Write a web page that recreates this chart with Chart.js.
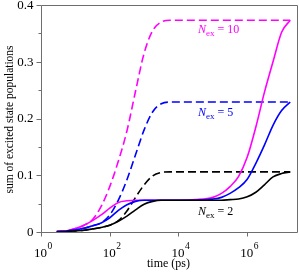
<!DOCTYPE html>
<html><head><meta charset="utf-8">
<script src="https://cdn.jsdelivr.net/npm/chart.js@4.4.1/dist/chart.umd.min.js"></script>
<style>html,body{margin:0;padding:0;background:#fff}#wrap{width:299px;height:272px}</style>
</head><body><div id="wrap"><canvas id="c" width="299" height="272"></canvas></div>
<script>
// time grid (ps)
const times = [2.88, 5.62, 10, 17.8, 31.6, 56.2, 100, 178, 316, 562, 1000, 1780, 3160, 5620, 1e4, 3.16e4, 1e5, 1.78e5, 3.16e5, 5.62e5, 1e6, 1.78e6, 3.16e6, 5.62e6, 1e7, 1.78e7];
// N_ex = 10
const magentaSolid  = [0.001,0.002,0.006,0.012,0.020,0.030,0.042,0.052,0.055,0.056,0.056,0.056,0.056,0.056,0.056,0.057,0.061,0.068,0.080,0.098,0.132,0.185,0.246,0.300,0.352,0.373];
const magentaDashed = [0.001,0.002,0.006,0.012,0.022,0.045,0.080,0.125,0.178,0.248,0.315,0.355,0.370,0.373,0.373,0.373,0.373,0.373,0.373,0.373,0.373,0.373,0.373,0.373,0.373,0.373];
// N_ex = 5
const blueSolid  = [0.0008,0.0018,0.004,0.0065,0.011,0.016,0.025,0.038,0.048,0.054,0.056,0.056,0.056,0.056,0.056,0.056,0.058,0.061,0.068,0.078,0.093,0.121,0.153,0.188,0.214,0.229];
const blueDashed = [0.0008,0.0018,0.004,0.0065,0.011,0.016,0.030,0.056,0.092,0.136,0.180,0.212,0.226,0.229,0.229,0.229,0.229,0.229,0.229,0.229,0.229,0.229,0.229,0.229,0.229,0.229];
// N_ex = 2
const blackSolid  = [0.0003,0.001,0.002,0.003,0.0055,0.008,0.012,0.019,0.028,0.039,0.049,0.054,0.056,0.056,0.056,0.056,0.056,0.056,0.057,0.058,0.062,0.070,0.083,0.097,0.103,0.106];
const blackDashed = [0.0003,0.001,0.002,0.003,0.0055,0.008,0.012,0.020,0.037,0.061,0.083,0.099,0.105,0.106,0.106,0.106,0.106,0.106,0.106,0.106,0.106,0.106,0.106,0.106,0.106,0.106];

// ticks
const xMajorTicks = [1, 100, 1e4, 1e6];
const xTickExponents = ['0', '2', '4', '6'];
const xMinorTicks = [2,3,4,5,6,7,8,9, 200,300,400,500,600,700,800,900, 2e4,3e4,4e4,5e4,6e4,7e4,8e4,9e4, 2e6,3e6,4e6,5e6,6e6,7e6,8e6,9e6];
const yMajorTicks = [0, 0.1, 0.2, 0.3, 0.4];
const yTickLabels = ['0', '0.1', '0.2', '0.3', '0.4'];
const yMinorTicks = [0.05, 0.15, 0.25, 0.35];

// curve labels
const curveLabels = [
  {num: '10', x: 3.7e4, y: 0.351, color: '#ff00ff'},
  {num: '5',  x: 3.7e4, y: 0.204, color: '#0000ff'},
  {num: '2',  x: 3.7e4, y: 0.030, color: '#000000'}
];

const toPts = arr => times.map((t, i) => ({x: t, y: arr[i]}));
const mk = (label, arr, color, dashed) => ({
  label, data: toPts(arr), borderColor: color, backgroundColor: color,
  borderWidth: 1.6, borderDash: dashed ? [8, 4] : [], pointRadius: 0,
  cubicInterpolationMode: 'monotone', fill: false
});

const SERIF = '"Liberation Serif", "Times New Roman", serif';
const AX = '#6e6e6e';

const axesPlugin = {
  id: 'axesPlugin',
  afterDraw(chart) {
    const ctx = chart.ctx, a = chart.chartArea, xs = chart.scales.x, ys = chart.scales.y;
    ctx.save();
    ctx.strokeStyle = AX; ctx.lineWidth = 1;
    ctx.beginPath();
    ctx.rect(Math.round(a.left) + 0.5, Math.round(a.top) + 0.5, Math.round(a.right - a.left) - 1, Math.round(a.bottom - a.top));
    ctx.stroke();
    const by = Math.round(a.bottom) + 0.5, lx = Math.round(a.left) + 0.5;
    // x ticks
    ctx.beginPath();
    xs.ticks.forEach(t => {
      const px = Math.round(xs.getPixelForValue(t.value)) + 0.5;
      ctx.moveTo(px, by); ctx.lineTo(px, by + (t.major ? 4 : 2.5));
    });
    ys.ticks.forEach(t => {
      const py = Math.round(ys.getPixelForValue(t.value)) + 0.5;
      ctx.moveTo(lx, py); ctx.lineTo(lx - (t.major ? 5 : 3), py);
    });
    ctx.stroke();
    // x tick labels
    ctx.fillStyle = '#000';
    ctx.textBaseline = 'alphabetic';
    xMajorTicks.forEach((v, i) => {
      const px = xs.getPixelForValue(v);
      ctx.font = '13px ' + SERIF; ctx.textAlign = 'center';
      ctx.fillText('10', px - 0.5, 256.5);
      const w = ctx.measureText('10').width;
      ctx.font = '9.5px ' + SERIF; ctx.textAlign = 'left';
      ctx.fillText(xTickExponents[i], px - 0.5 + w / 2 + 0.5, 249);
    });
    // y tick labels
    ctx.font = '13px ' + SERIF; ctx.textAlign = 'right'; ctx.textBaseline = 'middle';
    yMajorTicks.forEach((v, i) => {
      ctx.fillText(yTickLabels[i], lx - 8, ys.getPixelForValue(v) + 0.5);
    });
    // axis titles
    ctx.font = '12px ' + SERIF; ctx.textAlign = 'center'; ctx.textBaseline = 'alphabetic';
    ctx.fillText('time (ps)', 168.5, 267);
    ctx.save();
    ctx.translate(12.5, 119.5); ctx.rotate(-Math.PI / 2);
    ctx.font = '11.5px ' + SERIF; ctx.textAlign = 'center'; ctx.textBaseline = 'alphabetic';
    ctx.fillText('sum of excited state populations', 0, 0);
    ctx.restore();
    // curve labels
    curveLabels.forEach(l => {
      let x = xs.getPixelForValue(l.x); const y = ys.getPixelForValue(l.y);
      ctx.fillStyle = l.color; ctx.textAlign = 'left'; ctx.textBaseline = 'alphabetic';
      ctx.font = 'italic 12px ' + SERIF; ctx.fillText('N', x, y); x += ctx.measureText('N').width;
      ctx.font = '9px ' + SERIF; ctx.fillText('ex', x, y + 3); x += ctx.measureText('ex').width;
      ctx.font = '12px ' + SERIF; ctx.fillText(' = ' + l.num, x, y);
    });
    ctx.restore();
  }
};

new Chart(document.getElementById('c'), {
  type: 'line',
  data: {
    datasets: [
      mk('N=2 solid', blackSolid, '#000000', false),
      mk('N=5 solid', blueSolid, '#0000ff', false),
      mk('N=10 solid', magentaSolid, '#ff00ff', false),
      mk('N=2 dashed', blackDashed, '#000000', true),
      mk('N=5 dashed', blueDashed, '#0000ff', true),
      mk('N=10 dashed', magentaDashed, '#ff00ff', true)
    ]
  },
  options: {
    responsive: false, animation: false, devicePixelRatio: 1,
    layout: {padding: {left: 41, top: 5, right: 1.5, bottom: 40}},
    plugins: {legend: {display: false}, tooltip: {enabled: false}},
    scales: {
      x: {type: 'logarithmic', min: 1, max: 2.9e7, display: false,
          afterBuildTicks: s => { s.ticks = xMajorTicks.map(v => ({value: v, major: true})).concat(xMinorTicks.map(v => ({value: v, major: false}))); }},
      y: {type: 'linear', min: 0, max: 0.4, display: false,
          afterBuildTicks: s => { s.ticks = yMajorTicks.map(v => ({value: v, major: true})).concat(yMinorTicks.map(v => ({value: v, major: false}))); }}
    }
  },
  plugins: [axesPlugin]
});
</script>
</body></html>
